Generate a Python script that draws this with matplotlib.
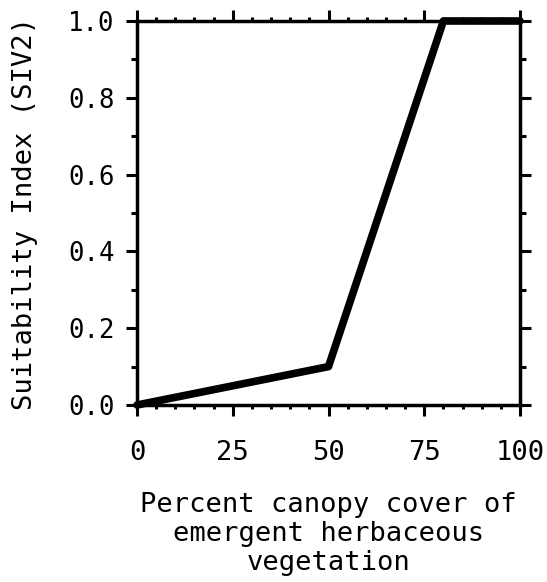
import matplotlib
matplotlib.use("Agg")
import matplotlib.pyplot as plt
from matplotlib.ticker import MultipleLocator

plt.rcParams['font.family'] = ['DejaVu Sans Mono']

x_vals = [0, 50, 80, 100]
y_vals = [0.0, 0.1, 1.0, 1.0]
x_ticks = [0, 25, 50, 75, 100]
y_ticks = [0.0, 0.2, 0.4, 0.6, 0.8, 1.0]
y_tick_labels = ["0.0", "0.2", "0.4", "0.6", "0.8", "1.0"]

fig = plt.figure(figsize=(5.47, 5.82), dpi=100)
ax = fig.add_axes([137/547, 1-405/582, (520-137)/547, (405-21)/582])

ax.plot(x_vals, y_vals, color='black', lw=5.5, solid_joinstyle='round',
        solid_capstyle='round', clip_on=False, zorder=3)

ax.set_xlim(0, 100)
ax.set_ylim(0, 1.0)
ax.set_xticks(x_ticks)
ax.set_xticklabels([str(v) for v in x_ticks])
ax.set_yticks(y_ticks)
ax.set_yticklabels(y_tick_labels)
ax.xaxis.set_minor_locator(MultipleLocator(5))
ax.yaxis.set_minor_locator(MultipleLocator(0.1))

for s in ax.spines.values():
    s.set_linewidth(2.5)

ax.tick_params(axis='x', which='major', direction='out', length=8, width=2.2,
               top=True, labeltop=False, labelsize=19.5, pad=17)
ax.tick_params(axis='x', which='minor', direction='out', length=3, width=2.2,
               top=True)
ax.tick_params(axis='y', which='major', direction='out', length=8, width=2.2,
               right=True, labelright=False, labelsize=18.5, pad=8)
ax.tick_params(axis='y', which='minor', direction='out', length=4, width=2.2,
               right=True)

ax.set_xlabel("Percent canopy cover of\nemergent herbaceous\nvegetation",
              fontsize=19.5, linespacing=1.14, labelpad=19)
ax.set_ylabel("Suitability Index (SIV2)", fontsize=19.5, labelpad=22)

fig.savefig("out.png", dpi=100)
